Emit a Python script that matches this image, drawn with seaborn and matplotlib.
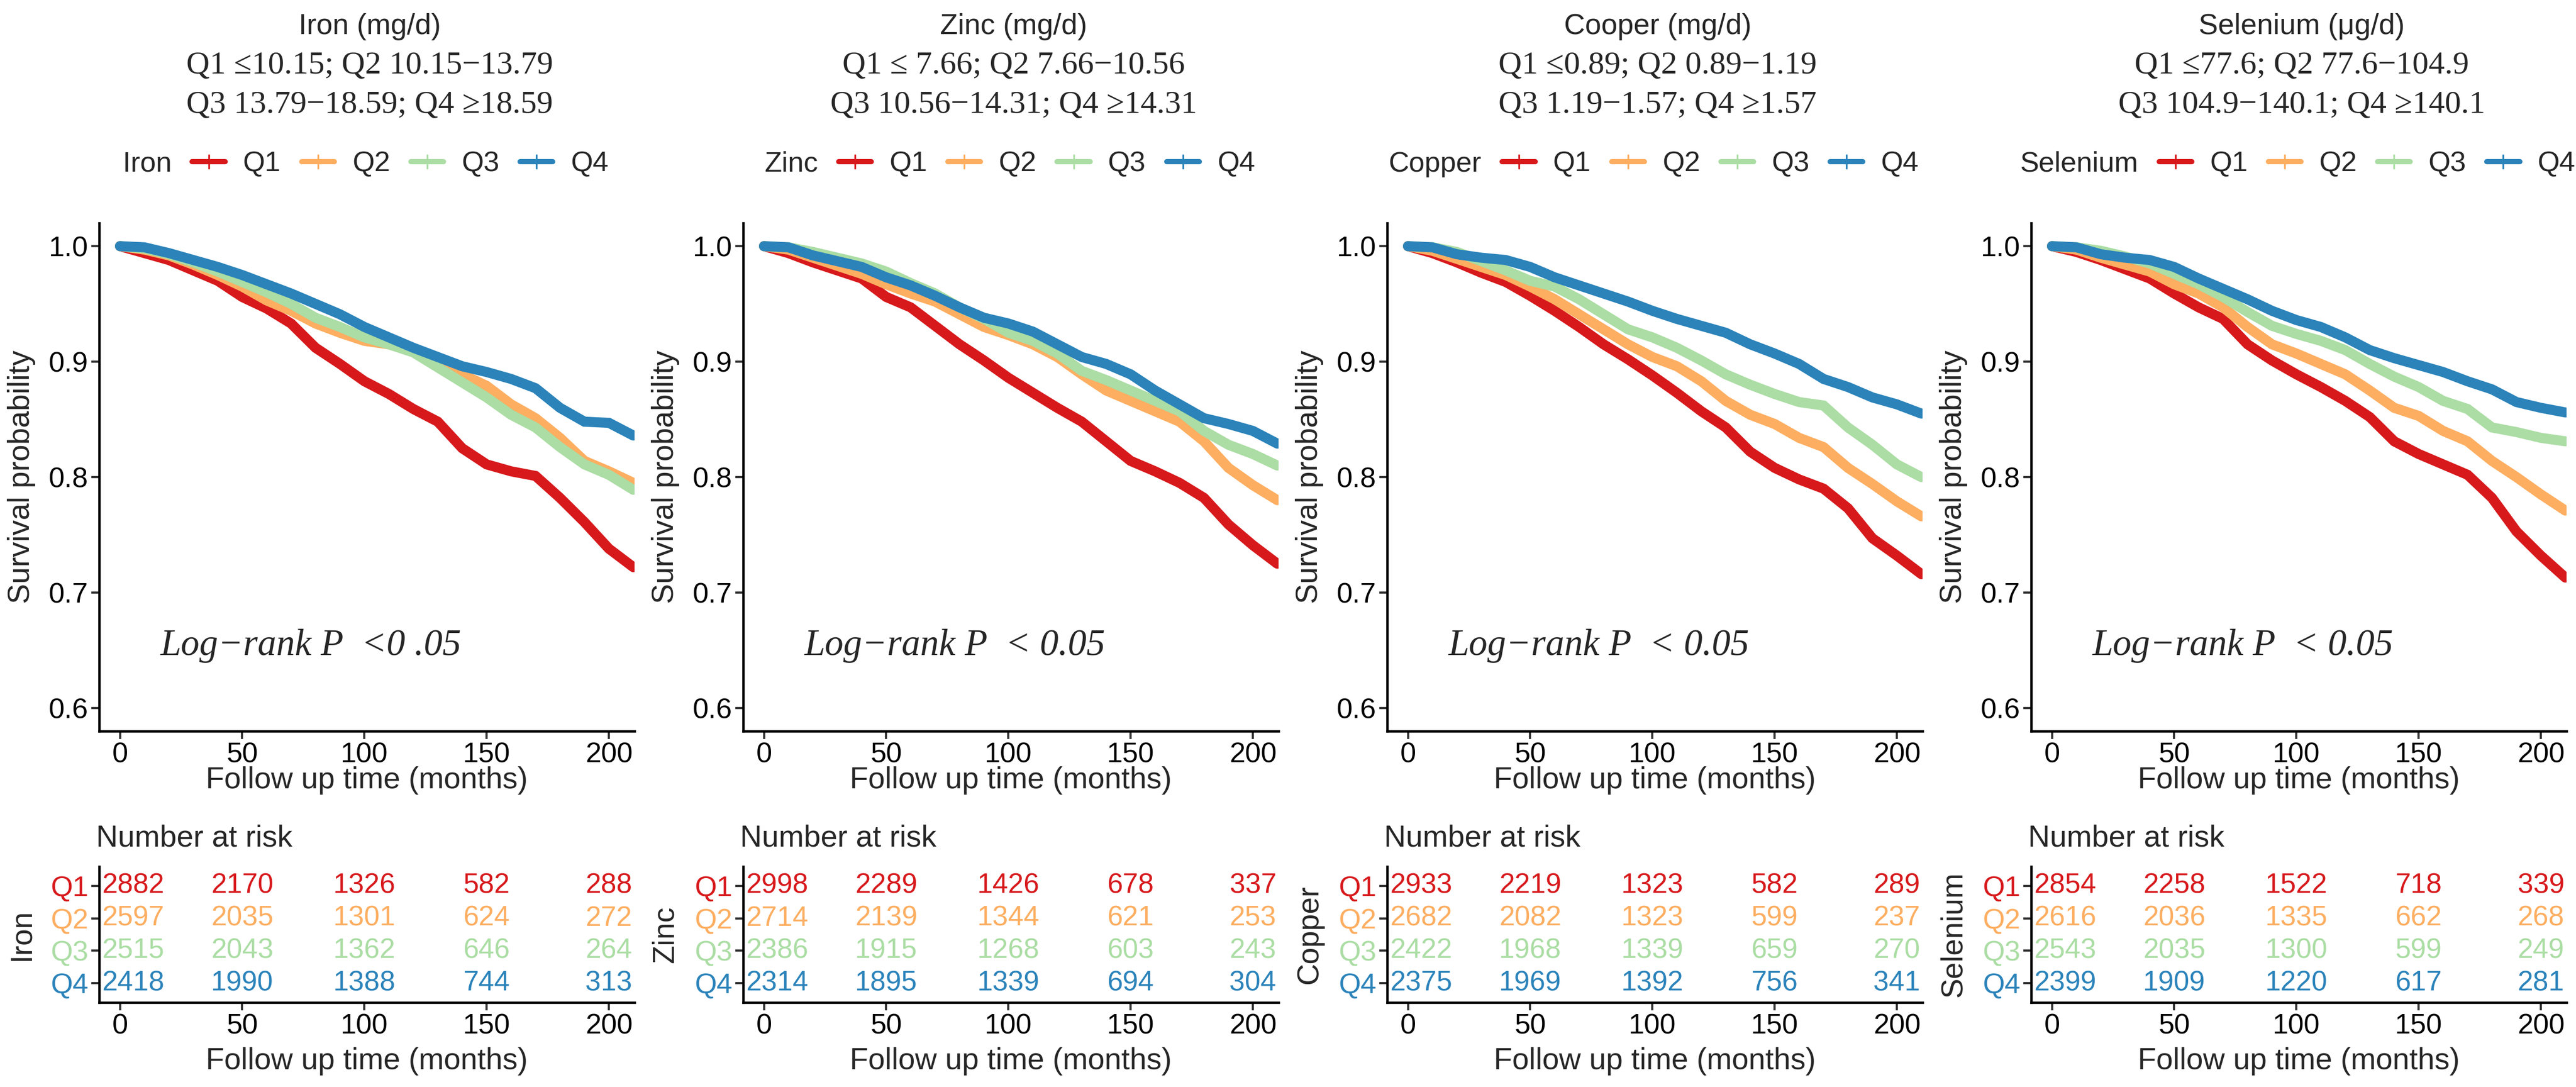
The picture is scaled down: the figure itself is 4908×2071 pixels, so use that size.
import matplotlib
matplotlib.use("Agg")
import matplotlib.pyplot as plt
from matplotlib.lines import Line2D
import pandas as pd
import seaborn as sns


# ── Data ──────────────────────────────────────────────────────────────────────

time = [0, 10, 20, 30, 40, 50, 60, 70, 80, 90, 100, 110, 120, 130, 140,
        150, 160, 170, 180, 190, 200, 210]

groups = ["Q1", "Q2", "Q3", "Q4"]
risk_times = [0, 50, 100, 150, 200]

iron_q1 = [1.0, 0.994, 0.988, 0.979, 0.970, 0.956, 0.946, 0.933, 0.912, 0.898, 0.883,
           0.872, 0.859, 0.848, 0.825, 0.811, 0.805, 0.801, 0.782, 0.761, 0.738, 0.722]
iron_q2 = [1.0, 0.997, 0.992, 0.984, 0.975, 0.965, 0.953, 0.944, 0.933, 0.925, 0.918,
           0.915, 0.909, 0.898, 0.889, 0.879, 0.863, 0.851, 0.834, 0.814, 0.805, 0.795]
iron_q3 = [1.0, 0.998, 0.993, 0.986, 0.978, 0.969, 0.960, 0.950, 0.938, 0.930, 0.921,
           0.915, 0.908, 0.895, 0.882, 0.869, 0.854, 0.843, 0.826, 0.811, 0.802, 0.789]
iron_q4 = [1.0, 0.999, 0.994, 0.988, 0.982, 0.975, 0.967, 0.959, 0.950, 0.941, 0.930,
           0.921, 0.912, 0.904, 0.896, 0.891, 0.885, 0.877, 0.860, 0.848, 0.847, 0.836]

zinc_q1 = [1.0, 0.994, 0.986, 0.979, 0.972, 0.956, 0.947, 0.931, 0.915, 0.901, 0.886,
           0.873, 0.860, 0.848, 0.831, 0.814, 0.805, 0.795, 0.782, 0.759, 0.741, 0.725]
zinc_q2 = [1.0, 0.997, 0.990, 0.983, 0.976, 0.967, 0.959, 0.952, 0.941, 0.930, 0.923,
           0.915, 0.904, 0.889, 0.875, 0.866, 0.857, 0.848, 0.831, 0.808, 0.793, 0.780]
zinc_q3 = [1.0, 0.999, 0.995, 0.990, 0.985, 0.978, 0.968, 0.959, 0.947, 0.937, 0.925,
           0.918, 0.907, 0.892, 0.884, 0.875, 0.866, 0.857, 0.840, 0.828, 0.820, 0.810]
zinc_q4 = [1.0, 0.999, 0.992, 0.987, 0.982, 0.973, 0.966, 0.957, 0.947, 0.938, 0.933,
           0.926, 0.915, 0.904, 0.898, 0.889, 0.875, 0.863, 0.851, 0.846, 0.840, 0.829]

copper_q1 = [1.0, 0.994, 0.986, 0.977, 0.969, 0.957, 0.944, 0.930, 0.915, 0.902, 0.888,
             0.873, 0.857, 0.843, 0.822, 0.808, 0.798, 0.790, 0.773, 0.747, 0.732, 0.716]
copper_q2 = [1.0, 0.996, 0.989, 0.982, 0.975, 0.965, 0.954, 0.941, 0.928, 0.915, 0.904,
             0.896, 0.883, 0.866, 0.854, 0.846, 0.834, 0.826, 0.808, 0.794, 0.779, 0.766]
copper_q3 = [1.0, 0.999, 0.995, 0.987, 0.979, 0.970, 0.965, 0.954, 0.941, 0.928, 0.921,
             0.912, 0.901, 0.889, 0.880, 0.872, 0.865, 0.862, 0.843, 0.828, 0.811, 0.800]
copper_q4 = [1.0, 0.999, 0.993, 0.990, 0.988, 0.982, 0.973, 0.966, 0.959, 0.952, 0.944,
             0.937, 0.931, 0.925, 0.915, 0.907, 0.898, 0.885, 0.878, 0.869, 0.863, 0.855]

selen_q1 = [1.0, 0.995, 0.988, 0.980, 0.972, 0.959, 0.947, 0.937, 0.915, 0.901, 0.889,
            0.878, 0.866, 0.852, 0.831, 0.820, 0.811, 0.802, 0.782, 0.753, 0.732, 0.713]
selen_q2 = [1.0, 0.997, 0.990, 0.984, 0.978, 0.967, 0.959, 0.947, 0.930, 0.915, 0.907,
            0.898, 0.889, 0.875, 0.860, 0.853, 0.840, 0.831, 0.814, 0.800, 0.785, 0.771]
selen_q3 = [1.0, 0.999, 0.996, 0.991, 0.985, 0.976, 0.967, 0.956, 0.943, 0.931, 0.924,
            0.918, 0.910, 0.898, 0.887, 0.878, 0.866, 0.859, 0.843, 0.839, 0.834, 0.831]
selen_q4 = [1.0, 0.999, 0.993, 0.990, 0.988, 0.982, 0.972, 0.963, 0.954, 0.944, 0.936,
            0.930, 0.921, 0.910, 0.903, 0.897, 0.891, 0.883, 0.876, 0.865, 0.860, 0.856]

# Number at risk (rows Q1..Q4, columns at risk_times)
iron_risk = [[2882, 2170, 1326, 582, 288], [2597, 2035, 1301, 624, 272],
             [2515, 2043, 1362, 646, 264], [2418, 1990, 1388, 744, 313]]
zinc_risk = [[2998, 2289, 1426, 678, 337], [2714, 2139, 1344, 621, 253],
             [2386, 1915, 1268, 603, 243], [2314, 1895, 1339, 694, 304]]
copper_risk = [[2933, 2219, 1323, 582, 289], [2682, 2082, 1323, 599, 237],
               [2422, 1968, 1339, 659, 270], [2375, 1969, 1392, 756, 341]]
selen_risk = [[2854, 2258, 1522, 718, 339], [2616, 2036, 1335, 662, 268],
              [2543, 2035, 1300, 599, 249], [2399, 1909, 1220, 617, 281]]

names = ["Iron", "Zinc", "Copper", "Selenium"]
headers = ["Iron (mg/d)", "Zinc (mg/d)", "Cooper (mg/d)", "Selenium (\u03bcg/d)"]
cut_lines = [
    ["Q1 \u226410.15; Q2 10.15\u221213.79", "Q3 13.79\u221218.59; Q4 \u226518.59"],
    ["Q1 \u2264 7.66; Q2 7.66\u221210.56", "Q3 10.56\u221214.31; Q4 \u226514.31"],
    ["Q1 \u22640.89; Q2 0.89\u22121.19", "Q3 1.19\u22121.57; Q4 \u22651.57"],
    ["Q1 \u226477.6; Q2 77.6\u2212104.9", "Q3 104.9\u2212140.1; Q4 \u2265140.1"],
]
pvalue_labels = ["Log\u2212rank P  <0 .05", "Log\u2212rank P  < 0.05",
                 "Log\u2212rank P  < 0.05", "Log\u2212rank P  < 0.05"]

curves = [[iron_q1, iron_q2, iron_q3, iron_q4],
          [zinc_q1, zinc_q2, zinc_q3, zinc_q4],
          [copper_q1, copper_q2, copper_q3, copper_q4],
          [selen_q1, selen_q2, selen_q3, selen_q4]]
risks = [iron_risk, zinc_risk, copper_risk, selen_risk]

colors = ["#D7191C", "#FDAE61", "#ABDDA4", "#2B83BA"]


# ── Style ─────────────────────────────────────────────────────────────────────

sns.set_theme(style="ticks")
plt.rcParams['font.family'] = ['Liberation Sans', 'DejaVu Sans']
plt.rcParams['axes.linewidth'] = 1.1
SERIF = ['Liberation Serif', 'DejaVu Serif']
FS_TICK = 13
FS_LAB = 13.8
FS_NUM = 12.8

W, H = 4908, 2071
fig = plt.figure(figsize=(W / 300, H / 300), dpi=300)

ax_w = 1020 / W
col_step = 1227 / W
main_bottom, main_h = 1 - 1393 / H, 968 / H
risk_bottom, risk_h = 1 - 1910 / H, 259 / H
XMIN, XMAX = -8.5, 210.5


def style_axis(ax):
    sns.despine(ax=ax)
    ax.spines['left'].set_color('black')
    ax.spines['bottom'].set_color('black')
    ax.tick_params(axis='both', length=3.5, width=1.0, color='#333333',
                   labelsize=FS_TICK, labelcolor='black', pad=1.5)
    ax.grid(False)
    ax.set_facecolor('white')


for i, name in enumerate(names):
    left = 189 / W + i * col_step

    # ── Survival curves ──
    ax = fig.add_axes([left, main_bottom, ax_w, main_h])
    for g, vals, c in zip(groups, curves[i], colors):
        df = pd.DataFrame({"time": time, "surv": vals})
        sns.lineplot(data=df, x="time", y="surv", ax=ax, color=c, lw=4.6,
                     legend=False, solid_joinstyle='miter')
    ax.set_xlim(XMIN, XMAX)
    ax.set_ylim(0.58, 1.02)
    ax.set_xticks([0, 50, 100, 150, 200])
    ax.set_yticks([0.6, 0.7, 0.8, 0.9, 1.0])
    ax.set_yticklabels(["0.6", "0.7", "0.8", "0.9", "1.0"])
    style_axis(ax)
    ax.set_xlabel("Follow up time (months)", fontsize=FS_LAB)
    ax.set_ylabel("Survival probability", fontsize=FS_LAB)
    ax.xaxis.set_label_coords(0.5, -0.069)
    ax.yaxis.set_label_coords(-0.1186, 0.5)

    ax.text(16.5, 0.654, pvalue_labels[i], family=SERIF, style='italic',
            fontsize=17, ha='left', va='center')

    # titles
    ax.text(0.505, 1.372, headers[i], transform=ax.transAxes, fontsize=13.3,
            ha='center', va='baseline')
    ax.text(0.505, 1.2944, cut_lines[i][0], transform=ax.transAxes, family=SERIF,
            fontsize=14.8, ha='center', va='baseline')
    ax.text(0.505, 1.217, cut_lines[i][1], transform=ax.transAxes, family=SERIF,
            fontsize=14.8, ha='center', va='baseline')

    # legend: first entry has an invisible handle so the strata name reads inline
    handles = [Line2D([], [], color='none')]
    for c in colors:
        handles.append(Line2D([0], [0], color=c, lw=2.4, marker='|',
                              markersize=6.5, markeredgewidth=0.8))
    ax.legend(handles, [name] + groups, ncol=5, frameon=False,
              loc='center', bbox_to_anchor=(0.4505, 1.116),
              fontsize=FS_TICK, handlelength=1.15, handletextpad=0.63,
              columnspacing=0.73, borderpad=0, borderaxespad=0, numpoints=1)

    # ── Risk table ──
    rax = fig.add_axes([left, risk_bottom, ax_w, risk_h])
    rows = [4, 3, 2, 1]
    for r, row_vals, c in zip(rows, risks[i], colors):
        for t, n in zip(risk_times, row_vals):
            if t == risk_times[0]:
                # first column sits just inside the axis line
                rax.text(XMIN + 1.2, r, str(n), color=c, fontsize=FS_NUM,
                         ha='left', va='center')
            else:
                rax.text(t, r, str(n), color=c, fontsize=FS_NUM,
                         ha='center', va='center')
    rax.set_xlim(XMIN, XMAX)
    rax.set_ylim(0.4, 4.6)
    rax.set_xticks([0, 50, 100, 150, 200])
    rax.set_yticks(rows)
    rax.set_yticklabels(groups)
    style_axis(rax)
    for lab, c in zip(rax.get_yticklabels(), colors):
        lab.set_color(c)
    rax.set_xlabel("Follow up time (months)", fontsize=FS_LAB)
    rax.set_ylabel(name, fontsize=FS_LAB)
    rax.xaxis.set_label_coords(0.5, -0.328)
    rax.yaxis.set_label_coords(-0.1186, 0.5)
    rax.text(-0.006, 1.205, "Number at risk", transform=rax.transAxes,
             fontsize=FS_LAB, ha='left', va='center')

fig.savefig("out.png", dpi=300, facecolor='white')
